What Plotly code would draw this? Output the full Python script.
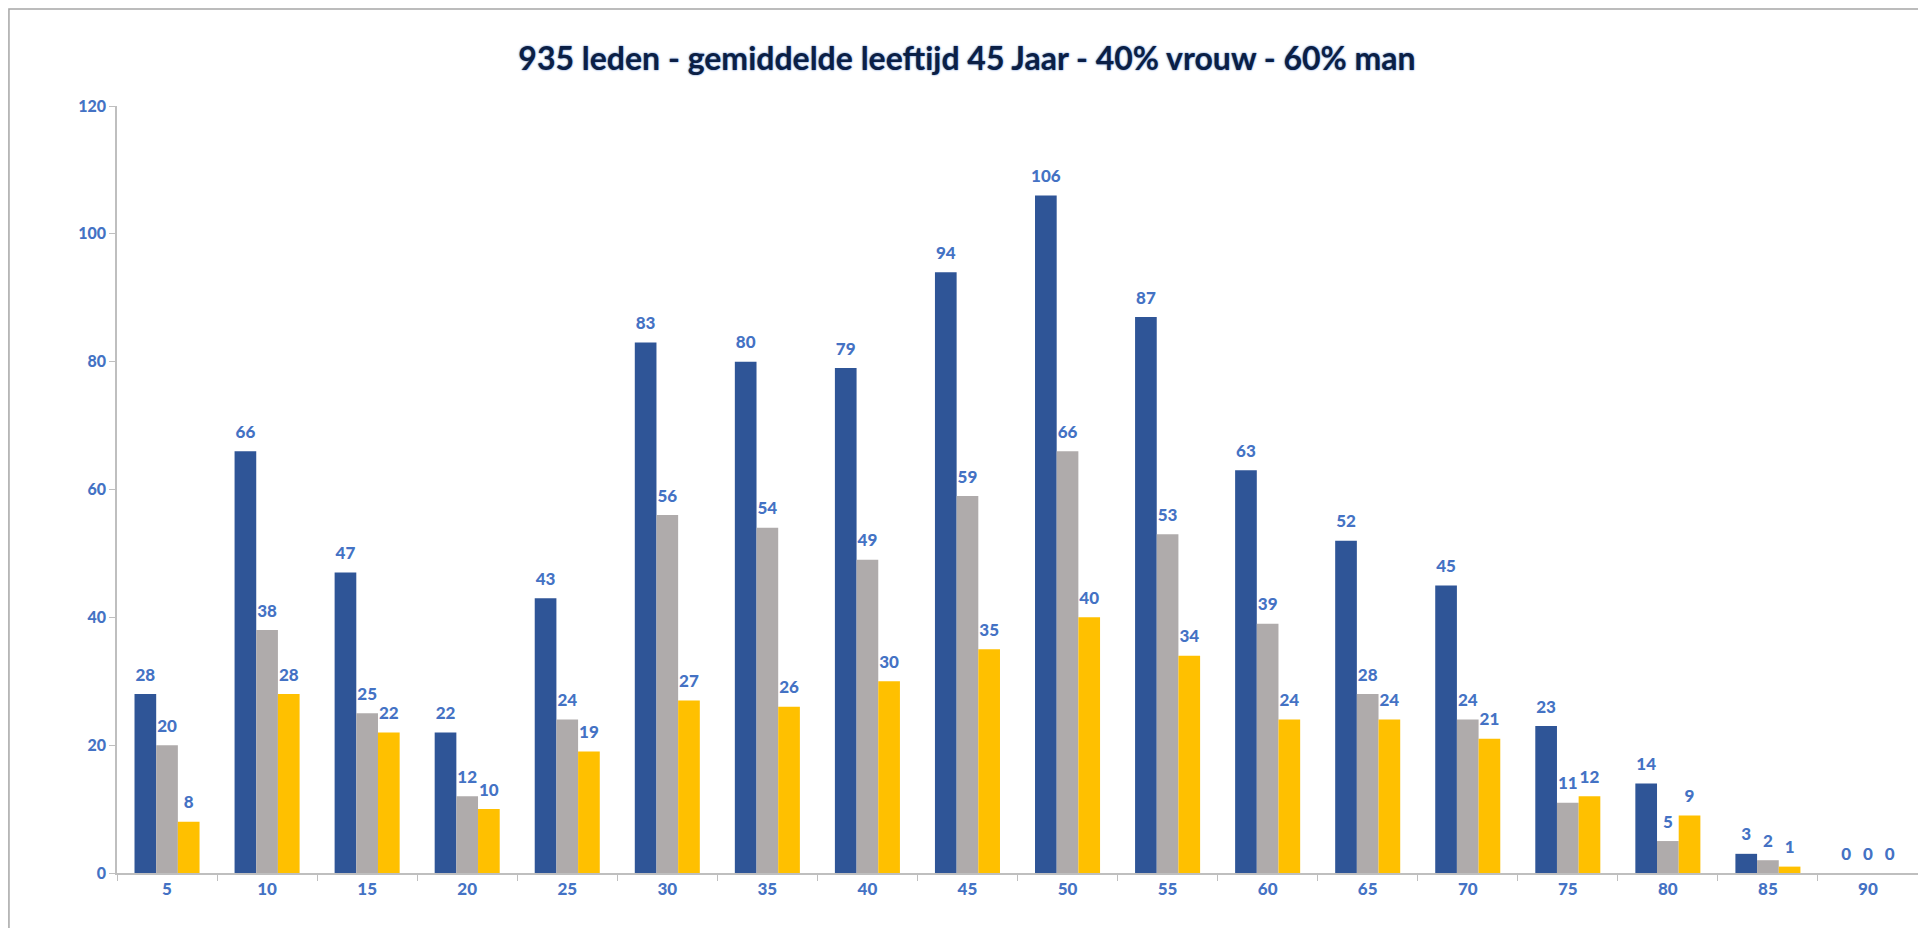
import plotly.graph_objects as go

# Kleuren
KLEUREN = {
    'blauw': '#2F5597',
    'grijs': '#AFABAB',
    'geel': '#FFC000',
    'label': '#4472C4',
    'titel': '#0B1F45',
    'as': '#BFBFBF'
}

leeftijden = ['5', '10', '15', '20', '25', '30', '35', '40', '45',
              '50', '55', '60', '65', '70', '75', '80', '85', '90']
totaal = [28, 66, 47, 22, 43, 83, 80, 79, 94, 106, 87, 63, 52, 45, 23, 14, 3, 0]
man = [20, 38, 25, 12, 24, 56, 54, 49, 59, 66, 53, 39, 28, 24, 11, 5, 2, 0]
vrouw = [8, 28, 22, 10, 19, 27, 26, 30, 35, 40, 34, 24, 24, 21, 12, 9, 1, 0]

y_ticks = [0, 20, 40, 60, 80, 100, 120]

series = [('Totaal', totaal, KLEUREN['blauw']),
          ('Man', man, KLEUREN['grijs']),
          ('Vrouw', vrouw, KLEUREN['geel'])]

fig = go.Figure()
for naam, waarden, kleur in series:
    fig.add_trace(go.Bar(
        name=naam,
        x=leeftijden,
        y=waarden,
        marker_color=kleur,
        marker_line_width=0,
        hoverinfo='x+y'
    ))

# labels boven de balken (onzichtbare marker duwt de tekst wat omhoog)
for naam, waarden, kleur in series:
    fig.add_trace(go.Scatter(
        name=naam + ' label',
        x=leeftijden,
        y=waarden,
        mode='markers+text',
        marker=dict(size=13, opacity=0),
        text=waarden,
        textposition='top center',
        textfont=dict(color=KLEUREN['label'], size=17, family='Lato', weight=900),
        cliponaxis=False,
        hoverinfo='skip'
    ))

fig.update_layout(
    title=dict(
        text='<b>935 leden - gemiddelde leeftijd 45 Jaar - 40% vrouw - 60% man</b>',
        x=0.5, xref='container', xanchor='center',
        y=0.945, yanchor='middle',
        font=dict(size=32, color=KLEUREN['titel'], family='Lato', weight=900,
                  shadow='0px 0px 2px #4472C4')
    ),
    width=1918,
    height=920,
    barmode='group',
    bargap=0.35,
    bargroupgap=0,
    scattermode='group',
    scattergap=0.35,
    showlegend=False,
    plot_bgcolor='white',
    paper_bgcolor='white',
    margin=dict(l=109, r=8, t=98, b=55),
    font=dict(family='Lato', color=KLEUREN['label']),
    xaxis=dict(
        type='category',
        showgrid=False,
        showline=True,
        linecolor=KLEUREN['as'],
        linewidth=1.5,
        ticks='outside',
        tickson='boundaries',
        ticklen=6,
        tickcolor=KLEUREN['as'],
        tickfont=dict(size=17, color=KLEUREN['label'], family='Lato', weight=900)
    ),
    yaxis=dict(
        range=[0, 120],
        tickvals=y_ticks,
        showgrid=False,
        zeroline=False,
        showline=True,
        linecolor=KLEUREN['as'],
        linewidth=1.5,
        ticks='outside',
        ticklen=6,
        tickcolor=KLEUREN['as'],
        tickfont=dict(size=16, color=KLEUREN['label'], family='Lato', weight=900)
    ),
    shapes=[dict(
        type='rect', xref='paper', yref='paper',
        x0=-0.0600, x1=1.0039, y0=-0.2, y1=1.1265,
        line=dict(color='#A6A6A6', width=1.5)
    )]
)

fig.write_html('out.html')
